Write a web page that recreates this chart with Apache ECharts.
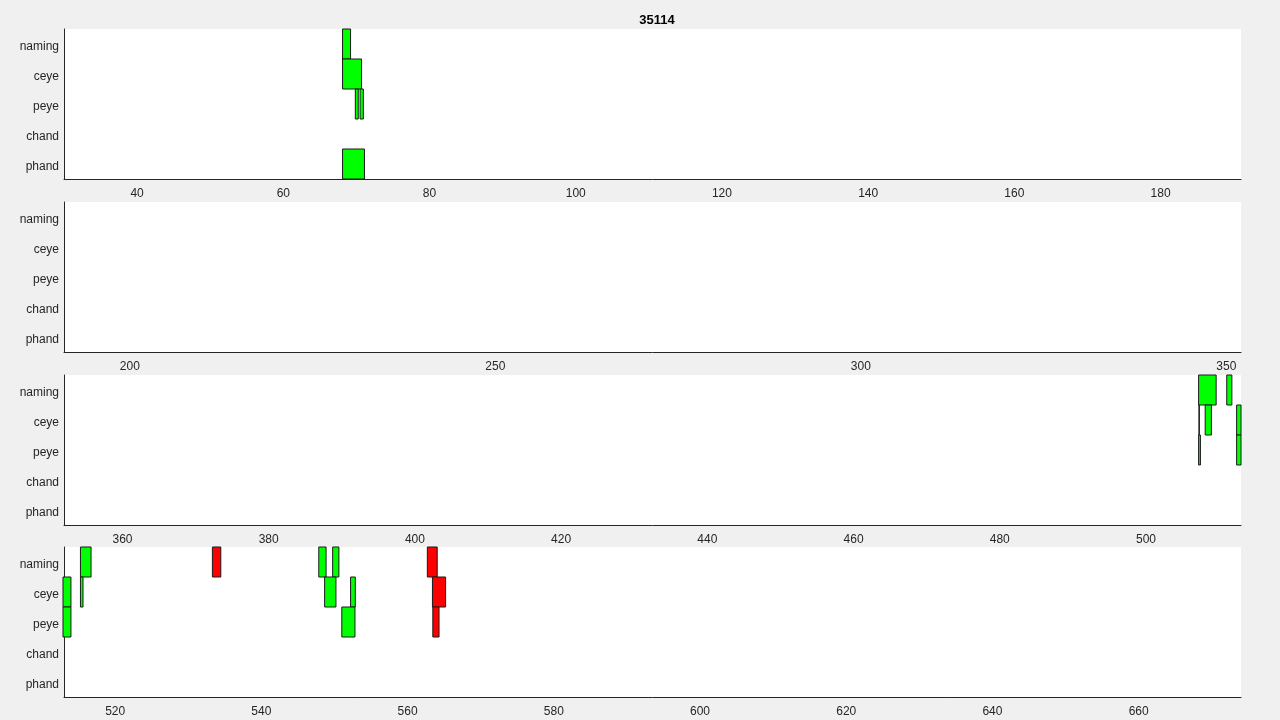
<!DOCTYPE html>
<html>
<head>
<meta charset="utf-8">
<script src="https://cdn.jsdelivr.net/npm/echarts@6/dist/echarts.min.js"></script>
<style>
  html, body { margin: 0; padding: 0; background: #f0f0f0; }
  #main { width: 1280px; height: 720px; }
</style>
</head>
<body>
<div id="main"></div>
<script>
const categories = ['naming', 'ceye', 'peye', 'chand', 'phand'];

// x limits of the four stacked panels
const panelMin = [30, 191, 352, 513];
const panelMax = [191, 352, 513, 674];
const panelTicks = [
  [40, 60, 80, 100, 120, 140, 160, 180],
  [200, 250, 300, 350],
  [360, 380, 400, 420, 440, 460, 480, 500],
  [520, 540, 560, 580, 600, 620, 640, 660]
];

// [category, start, end]
const greenBlocks = [
  ['naming', 68.1, 69.2], ['naming', 507.2, 509.6], ['naming', 511.05, 511.75],
  ['naming', 515.25, 516.7], ['naming', 547.85, 548.85], ['naming', 549.75, 550.6],
  ['ceye', 68.1, 70.7], ['ceye', 507.25, 507.3], ['ceye', 508.1, 508.95],
  ['ceye', 512.4, 513.95], ['ceye', 515.25, 515.6], ['ceye', 548.65, 550.2],
  ['ceye', 552.2, 552.85],
  ['peye', 69.85, 70.25], ['peye', 70.5, 70.95], ['peye', 507.2, 507.45],
  ['peye', 512.4, 513.95], ['peye', 551.0, 552.8],
  ['phand', 68.1, 71.1]
];
const redBlocks = [
  ['naming', 533.3, 534.45], ['naming', 562.7, 564.05],
  ['ceye', 563.4, 565.2],
  ['peye', 563.45, 564.3]
];

const textColor = '#262626';
const tops = [29, 202, 375, 547];

function makeRender(color) {
  return function (params, api) {
    const row = api.value(0);
    const p0 = api.coord([api.value(1), row]);
    const p1 = api.coord([api.value(2), row]);
    const h = api.size([0, 1])[1];
    const cs = params.coordSys;
    const shape = echarts.graphic.clipRectByRect(
      { x: p0[0], y: p0[1] - h / 2, width: p1[0] - p0[0], height: h },
      { x: cs.x - 1, y: cs.y, width: cs.width + 1, height: cs.height }
    );
    if (!shape) return;
    return {
      type: 'rect',
      shape: shape,
      style: { fill: color, stroke: '#1a1a1a', lineWidth: 1 }
    };
  };
}

function toData(blocks) {
  return blocks.map(b => [categories.indexOf(b[0]), b[1], b[2]]);
}

const grids = [], xAxes = [], yAxes = [], series = [];
for (let i = 0; i < 4; i++) {
  grids.push({ left: 64, width: 1177, top: tops[i], height: 150, show: true,
    backgroundColor: '#ffffff', borderWidth: 0 });
  xAxes.push({
    type: 'value', gridIndex: i, min: panelMin[i], max: panelMax[i],
    splitLine: { show: false },
    axisLine: { show: true, onZero: false, lineStyle: { color: textColor, width: 1 } },
    axisTick: { show: false },
    axisLabel: { customValues: panelTicks[i], color: textColor, fontSize: 12,
      fontFamily: 'Liberation Sans, Arial, sans-serif', margin: 9 }
  });
  yAxes.push({
    type: 'category', gridIndex: i, data: categories, inverse: true,
    axisLine: { show: true, lineStyle: { color: textColor, width: 1 } },
    axisTick: { show: false },
    splitLine: { show: false },
    axisLabel: {
      margin: 5,
      formatter: v => '{a|' + v + '}',
      rich: { a: { color: textColor, fontSize: 12, padding: [6, 0, 0, 0],
        fontFamily: 'Liberation Sans, Arial, sans-serif' } }
    }
  });
  series.push({
    type: 'custom', xAxisIndex: i, yAxisIndex: i,
    renderItem: makeRender('#00ff00'),
    encode: { x: [1, 2], y: 0 },
    data: toData(greenBlocks)
  });
  series.push({
    type: 'custom', xAxisIndex: i, yAxisIndex: i,
    renderItem: makeRender('#ff0000'),
    encode: { x: [1, 2], y: 0 },
    data: toData(redBlocks)
  });
}

const chart = echarts.init(document.getElementById('main'));
chart.setOption({
  animation: false,
  backgroundColor: '#f0f0f0',
  title: {
    text: '35114', left: 652, top: 9, textAlign: 'center',
    textStyle: { fontSize: 13, fontWeight: 'bold', color: '#000',
      fontFamily: 'Liberation Sans, Arial, sans-serif' }
  },
  grid: grids,
  xAxis: xAxes,
  yAxis: yAxes,
  series: series
});
</script>
</body>
</html>
